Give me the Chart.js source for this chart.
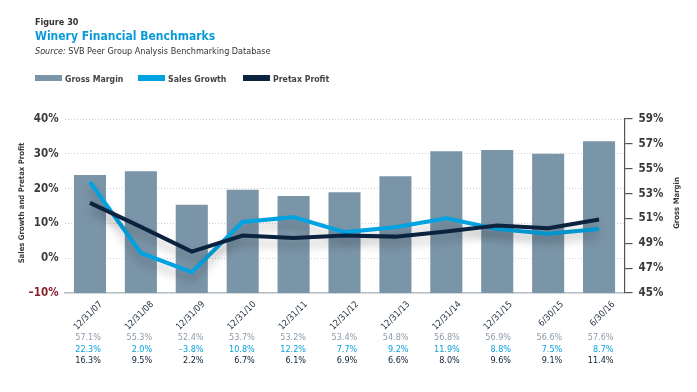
<!DOCTYPE html>
<html lang="en">
<head>
  <meta charset="UTF-8">
  <title>Winery Financial Benchmarks</title>
  <script src="https://cdn.jsdelivr.net/npm/chart.js"></script>
  <style>
    body {
      margin: 0;
      padding: 0;
      background: #fff;
      width: 697px;
      height: 392px;
      position: relative;
      overflow: hidden;
      font-family: "DejaVu Sans Condensed", "Liberation Sans Narrow", "Open Sans", sans-serif;
    }
    canvas {
      position: absolute;
      left: 0;
      top: 0;
    }
    .head {
      position: absolute;
      left: 35px;
      top: 17px;
      z-index: 2;
    }
    .fig { font-size: 9px; font-weight: bold; color: #333; }
    .title { font-size: 12px; font-weight: bold; color: #0a9ad8; margin-top: 2px; line-height: 15px; }
    .source { font-size: 9px; color: #333; margin-top: 2px; }
    .legend {
      position: absolute;
      left: 35px;
      top: 74px;
      z-index: 2;
      font-size: 8.7px;
      font-weight: bold;
      color: #444;
    }
    .item { position: absolute; top: 0; white-space: nowrap; }
    .swatch { display: inline-block; width: 27px; height: 6px; margin-right: 3px; vertical-align: 1px; }
  </style>
</head>
<body>
  <div class="head">
    <div class="fig">Figure 30</div>
    <div class="title">Winery Financial Benchmarks</div>
    <div class="source"><i>Source:</i> SVB Peer Group Analysis Benchmarking Database</div>
  </div>
  <div class="legend">
    <span class="item" style="left:0"><span class="swatch" style="background:#7b95a8"></span>Gross Margin</span>
    <span class="item" style="left:103px"><span class="swatch" style="background:#00a3e0"></span>Sales Growth</span>
    <span class="item" style="left:208px"><span class="swatch" style="background:#0c2340"></span>Pretax Profit</span>
  </div>

  <canvas id="chart" width="697" height="392"></canvas>

  <script>
    // data
    const periods = ['12/31/07', '12/31/08', '12/31/09', '12/31/10', '12/31/11', '12/31/12',
                     '12/31/13', '12/31/14', '12/31/15', '6/30/15', '6/30/16'];
    // bar heights as drawn (right axis)
    const grossMargin = [54.5, 54.8, 52.1, 53.3, 52.8, 53.1, 54.4, 56.4, 56.5, 56.2, 57.2];
    // lines as drawn (left axis)
    const salesGrowth = [21.9, 1.5, -4.0, 10.4, 11.8, 7.5, 8.9, 11.5, 8.4, 7.0, 8.4];
    const pretaxProfit = [15.9, 9.0, 1.9, 6.5, 5.8, 6.5, 6.2, 7.7, 9.4, 8.6, 11.1];
    // table printed under the axis
    const tableGross = [57.1, 55.3, 52.4, 53.7, 53.2, 53.4, 54.8, 56.8, 56.9, 56.6, 57.6];
    const tableSales = [22.3, 2.0, -3.8, 10.8, 12.2, 7.7, 9.2, 11.9, 8.8, 7.5, 8.7];
    const tablePretax = [16.3, 9.5, 2.2, 6.7, 6.1, 6.9, 6.6, 8.0, 9.6, 9.1, 11.4];
    const leftTicks = [-10, 0, 10, 20, 30, 40];
    const rightTicks = [45, 47, 49, 51, 53, 55, 57, 59];

    const FONT = '"DejaVu Sans Condensed", "Liberation Sans Narrow", "Open Sans", sans-serif';
    const pct = v => (v < 0 ? '\u2013' + Math.abs(v).toFixed(1) : v.toFixed(1)) + '%';

    // soft shadow under the two lines only
    const isLine = (chart, i) => chart.data.datasets[i].type === 'line';
    const lineShadow = {
      id: 'lineShadow',
      beforeDatasetDraw(chart, args) {
        if (!isLine(chart, args.index)) return;
        const c = chart.ctx;
        c.save();
        c.shadowColor = 'rgba(0,0,0,0.25)';
        c.shadowBlur = 10;
        c.shadowOffsetY = 7;
      },
      afterDatasetDraw(chart, args) {
        if (!isLine(chart, args.index)) return;
        chart.ctx.restore();
      }
    };

    // rotated dates, value table and axis titles
    const extras = {
      id: 'extras',
      afterDraw(chart) {
        const c = chart.ctx;
        const x = chart.scales.x;
        const bottom = chart.chartArea.bottom;
        c.save();
        periods.forEach((p, i) => {
          const px = x.getPixelForValue(i) + 11 + i * 0.35;
          c.save();
          c.translate(px, bottom + 10);
          c.rotate(-Math.PI / 4);
          c.font = '9px ' + FONT;
          c.fillStyle = '#1c2b3c';
          c.textAlign = 'right';
          c.textBaseline = 'middle';
          c.fillText(p, 0, 0);
          c.restore();

          c.textAlign = 'right';
          c.textBaseline = 'middle';
          c.font = '9px ' + FONT;
          c.fillStyle = '#8d9caa';
          c.fillText(pct(tableGross[i]), px, bottom + 45);
          c.fillStyle = '#0aa0dc';
          c.fillText(pct(tableSales[i]), px, bottom + 57);
          c.fillStyle = '#0c1f38';
          c.fillText(pct(tablePretax[i]), px, bottom + 68);
        });

        c.font = 'bold 7.7px ' + FONT;
        c.fillStyle = '#3a3a3a';
        c.textAlign = 'center';
        c.textBaseline = 'middle';
        c.save();
        c.translate(22, 203);
        c.rotate(-Math.PI / 2);
        c.fillText('Sales Growth and Pretax Profit', 0, 0);
        c.restore();
        c.save();
        c.translate(677, 203);
        c.rotate(-Math.PI / 2);
        c.fillText('Gross Margin', 0, 0);
        c.restore();
        c.restore();
      }
    };

    new Chart(document.getElementById('chart'), {
      data: {
        labels: periods,
        datasets: [
          {
            type: 'line',
            label: 'Pretax Profit',
            data: pretaxProfit,
            yAxisID: 'y',
            borderColor: '#0c2340',
            borderWidth: 4,
            pointRadius: 0,
            tension: 0,
            order: 1
          },
          {
            type: 'line',
            label: 'Sales Growth',
            data: salesGrowth,
            yAxisID: 'y',
            borderColor: '#00a3e0',
            borderWidth: 4,
            pointRadius: 0,
            tension: 0,
            order: 2
          },
          {
            type: 'bar',
            label: 'Gross Margin',
            data: grossMargin,
            yAxisID: 'y2',
            backgroundColor: '#7b95a8',
            barPercentage: 1,
            categoryPercentage: 0.63,
            order: 3
          }
        ]
      },
      options: {
        responsive: false,
        animation: false,
        layout: { padding: { top: 119, bottom: 99, left: 0, right: 0 } },
        plugins: {
          legend: { display: false },
          tooltip: { enabled: false }
        },
        scales: {
          x: {
            grid: { display: false },
            ticks: { display: false },
            border: { color: '#b9c1c8', width: 1.5 },
            afterFit(s) { s.height = 0; }
          },
          y: {
            position: 'left',
            min: -10,
            max: 40,
            afterBuildTicks(s) { s.ticks = leftTicks.map(v => ({ value: v })); },
            afterFit(s) { s.width = 64.5; },
            border: { display: false, dash: [1, 2] },
            grid: { color: '#cfcfcf', lineWidth: 1, drawTicks: false },
            ticks: {
              padding: 6,
              font: { family: FONT, size: 11.5, weight: 'bold' },
              color: ctx => ctx.tick && ctx.tick.value < 0 ? '#8a1f2e' : '#3a3a3a',
              callback: v => (v < 0 ? '\u2013' + Math.abs(v) : v) + '%'
            }
          },
          y2: {
            position: 'right',
            min: 45,
            max: 59,
            afterBuildTicks(s) { s.ticks = rightTicks.map(v => ({ value: v })); },
            afterFit(s) { s.width = 72.5; },
            border: { color: '#555', width: 1.2 },
            grid: { drawOnChartArea: false, color: '#555', tickLength: 8, lineWidth: 1.2 },
            ticks: {
              padding: 6,
              font: { family: FONT, size: 11.5, weight: 'bold' },
              color: '#3a3a3a',
              callback: v => v + '%'
            }
          }
        }
      },
      plugins: [lineShadow, extras]
    });
  </script>
</body>
</html>
